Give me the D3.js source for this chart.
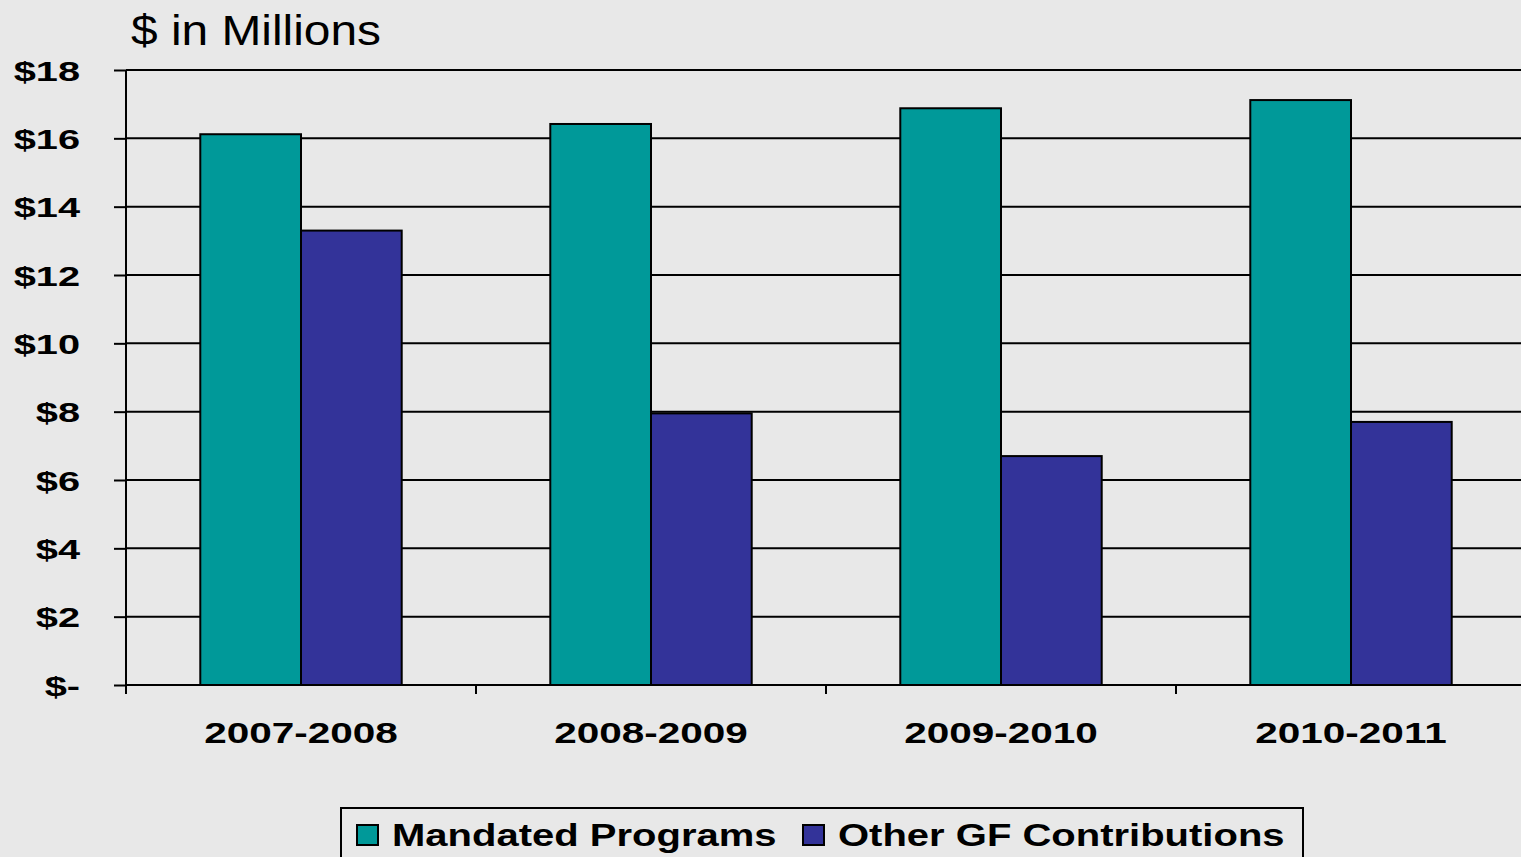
<!DOCTYPE html>
<html><head><meta charset="utf-8">
<script src="https://cdn.jsdelivr.net/npm/d3@7"></script>
<style>
html,body{margin:0;padding:0;background:#e8e8e8;overflow:hidden}
svg{display:block}
text{font-family:"Liberation Sans",Arial,sans-serif}
</style></head><body>
<script>
const categories = ["2007-2008","2008-2009","2009-2010","2010-2011"];
const seriesNames = ["Mandated Programs","Other GF Contributions"];
const mandated = [16.12, 16.42, 16.88, 17.12];
const otherGF = [13.3, 7.95, 6.7, 7.7];
const yTicks = [0,2,4,6,8,10,12,14,16,18];
const yTickLabels = ["$-","$2","$4","$6","$8","$10","$12","$14","$16","$18"];
const colors = ["#009999","#333399"];

const W=1521,H=857;
const svg=d3.select("body").append("svg").attr("width",W).attr("height",H);
svg.append("rect").attr("width",W).attr("height",H).attr("fill","#e8e8e8");

const x=d3.scaleBand().domain(categories).range([126,1526]).paddingInner(0).paddingOuter(0);
const y=d3.scaleLinear().domain([0,18]).range([685,70]);
const x1=d3.scaleBand().domain(seriesNames).range([0,x.bandwidth()]).paddingInner(0).paddingOuter(0.7376);

// gridlines
svg.append("g").selectAll("line").data(yTicks.filter(d=>d>0)).join("line")
 .attr("x1",126).attr("x2",1528).attr("y1",d=>y(d)).attr("y2",d=>y(d))
 .attr("stroke","#000").attr("stroke-width",2);

// y axis
const yAxis=d3.axisLeft(y).tickValues(yTicks).tickFormat((d,i)=>yTickLabels[i]).tickSize(12).tickPadding(46);
const gy=svg.append("g").attr("transform","translate(126,0)").call(yAxis);
gy.select(".domain").attr("stroke","#000").attr("stroke-width",2).attr("d","M0,70V693");
gy.selectAll(".tick line").attr("stroke","#000").attr("stroke-width",2);
gy.selectAll(".tick text").attr("font-size",28).attr("font-weight","bold").attr("fill","#000")
  .attr("font-family","Liberation Sans, Arial, sans-serif").attr("dy","0.36em")
  .attr("x",0).attr("text-anchor","end").attr("transform","translate(-46,0) scale(1.42,1)");

// bars
const data=categories.map((c,i)=>({c,vals:[mandated[i],otherGF[i]]}));
const g=svg.append("g").selectAll("g").data(data).join("g").attr("transform",d=>`translate(${x(d.c)},0)`);
g.selectAll("rect").data(d=>d.vals.map((v,j)=>({v,s:seriesNames[j],j}))).join("rect")
 .attr("x",d=>x1(d.s)).attr("width",x1.bandwidth())
 .attr("y",d=>y(d.v)).attr("height",d=>y(0)-y(d.v))
 .attr("fill",d=>colors[d.j]).attr("stroke","#000").attr("stroke-width",2);

// x axis
const xAxis=d3.axisBottom(x).tickSize(0).tickPadding(37);
const gx=svg.append("g").attr("transform","translate(0,685)").call(xAxis);
gx.select(".domain").attr("stroke","#000").attr("stroke-width",2).attr("d","M126,0H1528");
gx.selectAll(".tick text").attr("font-size",30).attr("font-weight","bold").attr("fill","#000")
  .attr("font-family","Liberation Sans, Arial, sans-serif")
  .attr("transform","scale(1.35,1)");
// category boundary ticks
svg.append("g").selectAll("line").data(categories).join("line")
 .attr("x1",d=>x(d)).attr("x2",d=>x(d)).attr("y1",685).attr("y2",694)
 .attr("stroke","#000").attr("stroke-width",2);

// title
svg.append("text").attr("transform","translate(131,45) scale(1.14,1)").attr("font-size",42).attr("fill","#000").text("$ in Millions");

// legend
const lg=svg.append("g");
lg.append("rect").attr("x",341).attr("y",808).attr("width",962).attr("height",60)
 .attr("fill","#e8e8e8").attr("stroke","#000").attr("stroke-width",2);
const items=[{n:seriesNames[0],sx:357,tx:392},{n:seriesNames[1],sx:803,tx:838}];
items.forEach((it,i)=>{
 lg.append("rect").attr("x",it.sx).attr("y",825).attr("width",21).attr("height",20)
  .attr("fill",colors[i]).attr("stroke","#000").attr("stroke-width",2);
 lg.append("text").attr("transform",`translate(${it.tx},846) scale(1.25,1)`).attr("font-size",32).attr("font-weight","bold").attr("fill","#000").text(it.n);
});
</script>
</body></html>
